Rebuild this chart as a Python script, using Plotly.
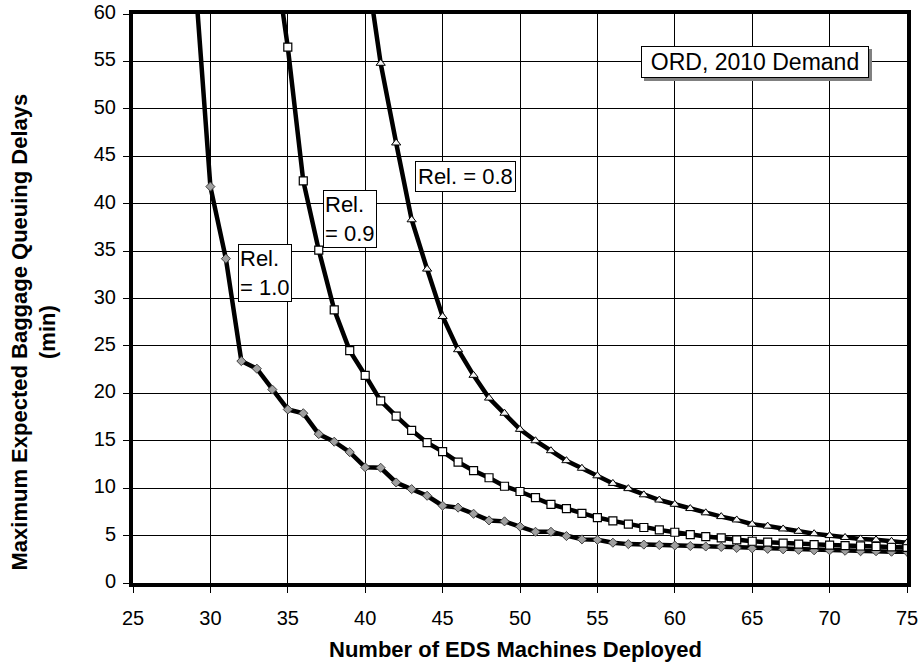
import plotly.graph_objects as go

x_rel10 = list(range(29, 76))
y_rel10 = [64, 41.8, 34.2, 23.4, 22.6, 20.4, 18.3, 17.9, 15.7, 14.9, 13.8, 12.2, 12.15, 10.6, 9.9,
           9.2, 8.15, 7.95, 7.3, 6.6, 6.5, 5.95, 5.4, 5.4, 4.95, 4.6, 4.55, 4.25, 4.1, 4.05,
           4.0, 3.95, 3.9, 3.85, 3.8, 3.7, 3.65, 3.6, 3.55, 3.5, 3.45, 3.45, 3.4, 3.35, 3.35, 3.3, 3.3]

x_rel09 = list(range(34, 76))
y_rel09 = [68, 56.5, 42.4, 35.1, 28.8, 24.5, 21.9, 19.2, 17.6, 16.1, 14.8, 13.85, 12.75, 11.85,
           11.1, 10.2, 9.65, 9.0, 8.3, 7.85, 7.35, 6.9, 6.55, 6.2, 5.85, 5.6, 5.35, 5.1, 4.9,
           4.75, 4.55, 4.4, 4.3, 4.2, 4.1, 4.05, 4.0, 3.95, 3.9, 3.85, 3.8, 3.75]

x_rel08 = list(range(40, 76))
y_rel08 = [66, 54.8, 46.4, 38.3, 33.1, 28.1, 24.6, 21.9, 19.5, 17.9, 16.2, 15.0, 13.95, 12.9,
           12.1, 11.3, 10.5, 9.95, 9.3, 8.75, 8.3, 7.85, 7.4, 7.0, 6.65, 6.2, 6.0, 5.7, 5.45,
           5.2, 5.0, 4.8, 4.65, 4.55, 4.4, 4.25]

x_title = "Number of EDS Machines Deployed"
y_title = "Maximum Expected Baggage Queuing Delays<br>(min)"

FONT = "Arial, Liberation Sans, sans-serif"

fig = go.Figure()
fig.add_trace(go.Scatter(x=x_rel10, y=y_rel10, mode="lines+markers", name="Rel. = 1.0",
                         line=dict(color="black", width=4.5),
                         marker=dict(symbol="diamond", size=7, color="#a0a0a0",
                                     line=dict(color="#404040", width=1))))
fig.add_trace(go.Scatter(x=x_rel09, y=y_rel09, mode="lines+markers", name="Rel. = 0.9",
                         line=dict(color="black", width=4.5),
                         marker=dict(symbol="square", size=8, color="white",
                                     line=dict(color="black", width=1.2))))
fig.add_trace(go.Scatter(x=x_rel08, y=y_rel08, mode="lines+markers", name="Rel. = 0.8",
                         line=dict(color="black", width=4.5),
                         marker=dict(symbol="triangle-up", size=8, color="#f4f4f4",
                                     line=dict(color="black", width=1))))

ann_font = dict(family=FONT, size=22, color="black")
# shadow of ORD box
fig.add_annotation(x=65.21, y=54.96, text="&nbsp;", showarrow=False, width=222, height=26,
                   font=dict(family=FONT, size=22, color="black"),
                   bgcolor="#808080", bordercolor="#808080", borderwidth=1, borderpad=2,
                   xshift=3, yshift=-3)
fig.add_annotation(x=65.21, y=54.96, text="ORD, 2010 Demand", showarrow=False, width=222, height=26,
                   font=dict(family=FONT, size=23, color="black"),
                   bgcolor="white", bordercolor="black", borderwidth=1, borderpad=2)
fig.add_annotation(x=46.45, y=42.9, text="Rel. = 0.8", showarrow=False, font=ann_font,
                   bgcolor="white", bordercolor="black", borderwidth=1, borderpad=2)
fig.add_annotation(x=39.0, y=38.4, text="Rel.<br>= 0.9", showarrow=False, font=ann_font,
                   align="left", bgcolor="white", bordercolor="black", borderwidth=1, borderpad=1)
fig.add_annotation(x=33.5, y=32.66, text="Rel.<br>= 1.0", showarrow=False, font=ann_font,
                   align="left", bgcolor="white", bordercolor="black", borderwidth=1, borderpad=1)

# axis titles
fig.add_annotation(xref="paper", yref="paper", x=0, y=0.5, xanchor="center", yanchor="middle",
                   xshift=-100, yshift=-34, textangle=-90, showarrow=False,
                   text="<b>" + y_title + "</b>", font=dict(family=FONT, size=22, color="black"))
fig.add_annotation(xref="paper", yref="paper", x=0.5, y=0, xanchor="center", yanchor="middle",
                   xshift=-5, yshift=-66, showarrow=False,
                   text="<b>" + x_title + "</b>", font=dict(family=FONT, size=22, color="black"))

fig.update_layout(
    width=922, height=668,
    margin=dict(l=133, r=15, t=14, b=85, autoexpand=False),
    paper_bgcolor="white", plot_bgcolor="white",
    showlegend=False,
    font=dict(family=FONT, size=20, color="black"),
    xaxis=dict(range=[25, 75], tick0=25, dtick=5, showgrid=True, gridcolor="black", gridwidth=1,
               showline=True, linecolor="black", linewidth=4, mirror=True,
               ticks="outside", ticklen=6, tickcolor="black", zeroline=False, automargin=False,
               ticklabelstandoff=8, ticklabeloverflow="allow",
               tickfont=dict(family=FONT, size=20)),
    yaxis=dict(range=[0, 60], tick0=0, dtick=5, showgrid=True, gridcolor="black", gridwidth=1,
               showline=True, linecolor="black", linewidth=4, mirror=True,
               ticks="outside", ticklen=6, tickcolor="black", zeroline=False, automargin=False,
               ticklabelstandoff=3, ticklabeloverflow="allow", ticklabelshift=-2,
               tickfont=dict(family=FONT, size=20)),
)

fig.write_html("out.html", config={"displayModeBar": False},
               post_script="document.body.style.margin='0';")
